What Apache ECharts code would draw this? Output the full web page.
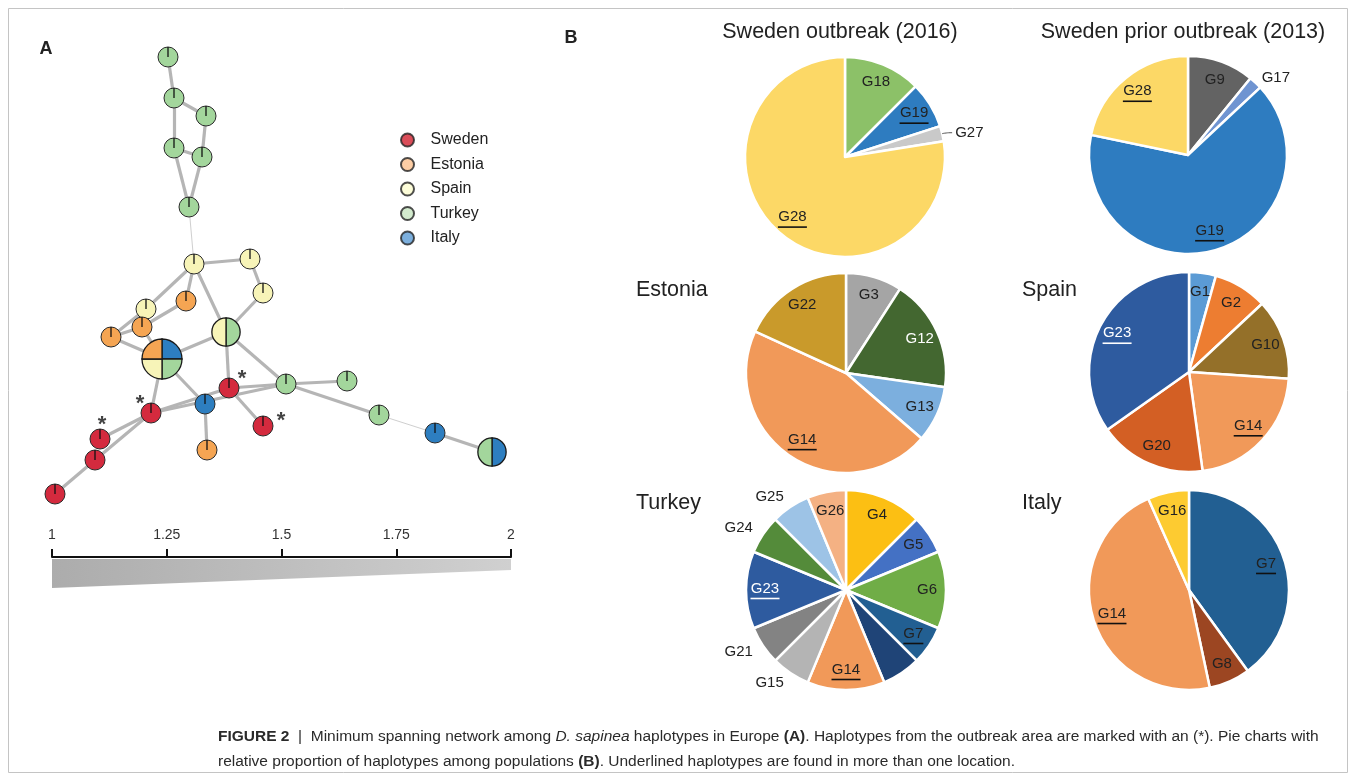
<!DOCTYPE html>
<html><head><meta charset="utf-8">
<script src="https://cdn.jsdelivr.net/npm/echarts@6/dist/echarts.min.js"></script>
<style>html,body{margin:0;padding:0;background:#fff}#c{width:1356px;height:781px}</style>
</head><body><div id="c"></div>
<script>
// ---------- DATA ----------
const countries = ['Sweden','Estonia','Spain','Turkey','Italy'];
const nodeFill = ['#d42a3e','#f5a553','#f7f4b8','#a3d69c','#2d7ec0'];
const legendFill = ['#d1202f','#fdc28e','#fdfccf','#c8e6c2','#5b9bd5'];

// haplotype network: node layout (network units) and populations present in each node
const nodeX = [138,144,176,144,172,159,164,220,233,156,116,112,81,132,196,199,256,175,121,233,177,70,65,25,317,349,405,462];
const nodeY = [27,68,86,118,127,177,234,229,263,271,279,297,307,329,302,358,354,374,383,396,420,409,430,464,351,385,403,422];
const nodePops = [[3],[3],[3],[3],[3],[3],[2],[2],[2],[1],[2],[1],[1],[4,3,2,1],[3,2],[0],[3],[4],[0],[0],[1],[0],[0],[0],[3],[3],[4],[4,3]];
const edgeFrom = [0,1,1,2,3,3,4,5,6,7,8,6,6,6,10,9,11,11,12,13,13,13,14,14,15,15,18,18,17,18,18,22,16,16,25,26];
const edgeTo   = [1,2,3,4,4,5,5,6,7,8,14,14,9,10,12,11,12,13,13,14,18,17,15,16,19,16,15,16,20,21,22,23,24,25,26,27];
const edgeStrong = [1,1,1,1,1,1,1,0,1,1,1,1,1,1,1,1,1,1,1,1,1,1,1,1,1,1,1,1,1,1,1,1,1,1,0,1];
const outbreakNodes = [15,18,19,21];

// scale bar
const scaleMin = 1, scaleMax = 2, scaleStep = 0.25;
const wedgeEnds = [1, 2];
const wedgeThick = [29, 11];

// pie charts
const pieTitles = ['Sweden outbreak (2016)','Sweden prior outbreak (2013)','Estonia','Spain','Turkey','Italy'];
const swedenNames = ['G18','G19','G27','G28'];
const swedenValues = [5,3,1,31];
const swedenColors = ['#8cc168','#2e7cc0','#c9c9c9','#fcd866'];
const priorNames = ['G9','G17','G19','G28'];
const priorValues = [5,1,30,10];
const priorColors = ['#636363','#6f94d1','#2e7cc0','#fcd866'];
const estoniaNames = ['G3','G12','G13','G14','G22'];
const estoniaValues = [1,2,1,5,2];
const estoniaColors = ['#a5a5a5','#436730','#7cafde','#f19959','#c99a2b'];
const spainNames = ['G1','G2','G10','G14','G20','G23'];
const spainValues = [1,2,3,5,4,8];
const spainColors = ['#5b9bd5','#ed7d31','#947029','#f19959','#d35f24','#2e5b9f'];
const turkeyNames = ['G4','G5','G6','G7','','G14','G15','G21','G23','G24','G25','G26'];
const turkeyValues = [2,1,2,1,1,2,1,1,2,1,1,1];
const turkeyColors = ['#fcbf13','#4471c4','#70ad47','#225f92','#1f4477','#f19959','#b4b4b4','#838383','#2e5b9f','#548b3a','#9dc3e6','#f4b183'];
const italyNames = ['G7','G8','G14','G16'];
const italyValues = [6,1,7,1];
const italyColors = ['#225f92','#9c4622','#f19959','#fdcb31'];

const outsideLabels = ['G27','G17','G25','G24','G21','G15'];
const whiteLabels = ['G12','G23'];

// ---------- BUILD ----------
const FONT = 'Liberation Sans, Arial, sans-serif';
const allNames = [swedenNames, priorNames, estoniaNames, spainNames, turkeyNames, italyNames];
function shared(n){ return n && allNames.filter(a => a.includes(n)).length > 1; }

const pies = [
  {names: swedenNames, values: swedenValues, colors: swedenColors, center: [845,157], r: 100},
  {names: priorNames, values: priorValues, colors: priorColors, center: [1188,155], r: 99},
  {names: estoniaNames, values: estoniaValues, colors: estoniaColors, center: [846,373], r: 100},
  {names: spainNames, values: spainValues, colors: spainColors, center: [1189,372], r: 100},
  {names: turkeyNames, values: turkeyValues, colors: turkeyColors, center: [846,590], r: 100},
  {names: italyNames, values: italyValues, colors: italyColors, center: [1189,590], r: 100}
];
const titlePos = [[840,32,'center'],[1183,32,'center'],[636,290,'left'],[1022,290,'left'],[636,503,'left'],[1022,503,'left']];

const rich = {
  t: {fontSize: 15, color: '#222', fontFamily: FONT, lineHeight: 17},
  w: {fontSize: 15, color: '#fff', fontFamily: FONT, lineHeight: 17},
  tu2: {width: 20, height: 1.6, backgroundColor: '#111', fontSize: 1, lineHeight: 3},
  tu3: {width: 29, height: 1.6, backgroundColor: '#111', fontSize: 1, lineHeight: 3},
  wu2: {width: 20, height: 1.6, backgroundColor: '#fff', fontSize: 1, lineHeight: 3},
  wu3: {width: 29, height: 1.6, backgroundColor: '#fff', fontSize: 1, lineHeight: 3}
};
function fmt(p){
  const n = p.name; if (!n) return '';
  const k = (whiteLabels.includes(n) && !outsideLabels.includes(n)) ? 'w' : 't';
  let s = '{' + k + '|' + n + '}';
  if (shared(n)) s += '\n{' + k + 'u' + n.length + '| }';
  return s;
}

const series = [];
// network edges
series.push({
  type: 'lines', coordinateSystem: 'cartesian2d', xAxisIndex: 0, yAxisIndex: 0, silent: true, z: 2,
  lineStyle: {color: '#b5b5b5', width: 3.2, opacity: 1},
  data: edgeFrom.map((f, i) => ({
    coords: [[nodeX[f], nodeY[f]], [nodeX[edgeTo[i]], nodeY[edgeTo[i]]]],
    lineStyle: edgeStrong[i] ? {} : {width: 1, color: '#cfcfcf'}
  }))
});
// network nodes
series.push({
  type: 'custom', xAxisIndex: 0, yAxisIndex: 0, silent: true, z: 3,
  data: nodeX.map((x, i) => [x, nodeY[i], i]),
  renderItem: function(params, api){
    const i = api.value(2);
    const p = api.coord([api.value(0), api.value(1)]);
    const g = nodePops[i];
    const r = 10 * Math.sqrt(g.length);
    const ch = [];
    if (g.length === 1) {
      ch.push({type: 'circle', shape: {cx: p[0], cy: p[1], r: r}, style: {fill: nodeFill[g[0]], stroke: '#2a2a2a', lineWidth: 1}});
      ch.push({type: 'line', shape: {x1: p[0], y1: p[1], x2: p[0], y2: p[1] - r}, style: {stroke: '#111', lineWidth: 1.3}});
    } else {
      const step = 2 * Math.PI / g.length;
      g.forEach((c, k) => ch.push({type: 'sector', shape: {cx: p[0], cy: p[1], r: r, r0: 0,
        startAngle: -Math.PI/2 + k*step, endAngle: -Math.PI/2 + (k+1)*step, clockwise: true},
        style: {fill: nodeFill[c], stroke: '#1a1a1a', lineWidth: 1.3}}));
    }
    return {type: 'group', children: ch};
  }
});
// outbreak markers
const starOffsets = [[13,-9],[-11,-9],[18,-5],[2,-14]];
series.push({
  type: 'scatter', xAxisIndex: 0, yAxisIndex: 0, symbolSize: 0, silent: true, z: 4,
  data: outbreakNodes.map((n, k) => ({value: [nodeX[n], nodeY[n]], label: {offset: starOffsets[k]}})),
  label: {show: true, position: 'inside', formatter: '*', fontSize: 22, fontWeight: 'bold', color: '#111', fontFamily: FONT}
});
// legend dummies
countries.forEach((c, i) => series.push({
  type: 'scatter', name: c, xAxisIndex: 0, yAxisIndex: 0, data: [],
  itemStyle: {color: legendFill[i], borderColor: '#222', borderWidth: 1}
}));
// scale wedge
series.push({
  type: 'custom', xAxisIndex: 1, yAxisIndex: 1, silent: true,
  data: [[wedgeEnds[0], wedgeEnds[1], wedgeThick[0], wedgeThick[1]]],
  renderItem: function(params, api){
    const top = 2;
    const a = api.coord([api.value(0), top]);
    const b = api.coord([api.value(1), top]);
    const c = api.coord([api.value(1), top + api.value(3)]);
    const d = api.coord([api.value(0), top + api.value(2)]);
    return {type: 'polygon', shape: {points: [a, b, c, d]},
      style: {fill: {type: 'linear', x: 0, y: 0, x2: 1, y2: 0, colorStops: [{offset: 0, color: '#acacac'}, {offset: 1, color: '#d0d0d0'}]}}};
  }
});
// pies
pies.forEach(p => {
  const data = p.names.map((n, i) => ({name: n, value: p.values[i], itemStyle: {color: p.colors[i]}}));
  series.push({
    type: 'pie', center: p.center, radius: p.r, startAngle: 90, clockwise: true, silent: true, animation: false,
    label: {show: false}, labelLine: {show: false},
    itemStyle: {borderColor: '#fff', borderWidth: 2.5},
    data: data
  });
  series.push({
    type: 'pie', center: p.center, radius: [p.r * 0.56, p.r], startAngle: 90, clockwise: true, silent: true, animation: false,
    avoidLabelOverlap: false, z: 5,
    itemStyle: {color: 'rgba(0,0,0,0)', borderWidth: 0},
    label: {show: true, position: 'inside', formatter: fmt, rich: rich},
    labelLine: {show: false},
    data: p.names.map((n, i) => {
      const item = {name: n, value: p.values[i]};
      if (outsideLabels.includes(n)) {
        const withLine = n === 'G27';
        item.label = {position: 'outside', distanceToLabelLine: withLine ? 3 : (n === 'G17' ? 2 : 0)};
        item.labelLine = withLine ? {show: true, length: 4, length2: 6, smooth: 0.6, lineStyle: {color: '#555', width: 1}}
                                  : {show: false, length: n === 'G17' ? 6 : 12, length2: 0};
      }
      return item;
    })
  });
});

// graphic texts
const graphics = [];
graphics.push({type: 'rect', z: -1, shape: {x: 8.5, y: 8.5, width: 1339, height: 764}, style: {fill: 'none', stroke: '#c4c4c4', lineWidth: 1}});
graphics.push({type: 'text', x: 46, y: 49, style: {text: 'A', fontSize: 18, fontWeight: 'bold', fontFamily: FONT, fill: '#222', align: 'center', verticalAlign: 'middle', textAlign: 'center', textVerticalAlign: 'middle'}});
graphics.push({type: 'text', x: 571, y: 38, style: {text: 'B', fontSize: 18, fontWeight: 'bold', fontFamily: FONT, fill: '#222', align: 'center', verticalAlign: 'middle', textAlign: 'center', textVerticalAlign: 'middle'}});
pieTitles.forEach((t, i) => {
  const [x, y, al] = titlePos[i];
  graphics.push({type: 'text', x: x, y: y, style: {text: t, fontSize: 21.5, fontFamily: FONT, fill: '#222', align: al, verticalAlign: 'middle', textAlign: al, textVerticalAlign: 'middle'}});
});
const CAPC = '#2a2a2a';
const capRich = {
  n: {fontSize: 15.5, fontFamily: FONT, fill: CAPC, color: CAPC},
  b: {fontSize: 15.5, fontFamily: FONT, fontWeight: 'bold', fill: CAPC, color: CAPC},
  i: {fontSize: 15.5, fontFamily: FONT, fontStyle: 'italic', fill: CAPC, color: CAPC}
};
graphics.push({type: 'text', x: 218, y: 737, style: {
  text: '{b|FIGURE 2}{n|  |  Minimum spanning network among }{i|D. sapinea}{n| haplotypes in Europe }{b|(A)}{n|. Haplotypes from the outbreak area are marked with an (*). Pie charts with}',
  rich: capRich, fontSize: 15.5, fontFamily: FONT, fill: CAPC, verticalAlign: 'middle', textVerticalAlign: 'middle'}});
graphics.push({type: 'text', x: 218, y: 762, style: {
  text: '{n|relative proportion of haplotypes among populations }{b|(B)}{n|. Underlined haplotypes are found in more than one location.}',
  rich: capRich, fontSize: 15.5, fontFamily: FONT, fill: CAPC, verticalAlign: 'middle', textVerticalAlign: 'middle'}});

const option = {
  animation: false,
  backgroundColor: '#fff',
  textStyle: {fontFamily: FONT},
  grid: [
    {left: 30, top: 30, width: 500, height: 500, show: false},
    {left: 52, top: 557, width: 459, height: 40, show: false}
  ],
  xAxis: [
    {gridIndex: 0, type: 'value', min: 0, max: 500, show: false},
    {gridIndex: 1, type: 'value', position: 'top', min: scaleMin, max: scaleMax, interval: scaleStep,
     axisLine: {show: true, lineStyle: {color: '#111', width: 2}},
     axisTick: {show: true, length: 8, lineStyle: {color: '#111', width: 2}},
     axisLabel: {fontSize: 14, color: '#333', margin: 15, fontFamily: FONT},
     splitLine: {show: false}}
  ],
  yAxis: [
    {gridIndex: 0, type: 'value', min: 0, max: 500, inverse: true, show: false},
    {gridIndex: 1, type: 'value', min: 0, max: 40, inverse: true, show: false}
  ],
  legend: {
    orient: 'vertical', left: 395, top: 127, itemWidth: 28, itemHeight: 13, itemGap: 8.5, icon: 'circle',
    selectedMode: false, data: countries,
    textStyle: {fontSize: 16, color: '#222', fontFamily: FONT, padding: [0, 0, 0, 4]}
  },
  graphic: graphics,
  series: series
};
const chart = echarts.init(document.getElementById('c'), null, {renderer: 'canvas'});
chart.setOption(option);
</script>
</body></html>
